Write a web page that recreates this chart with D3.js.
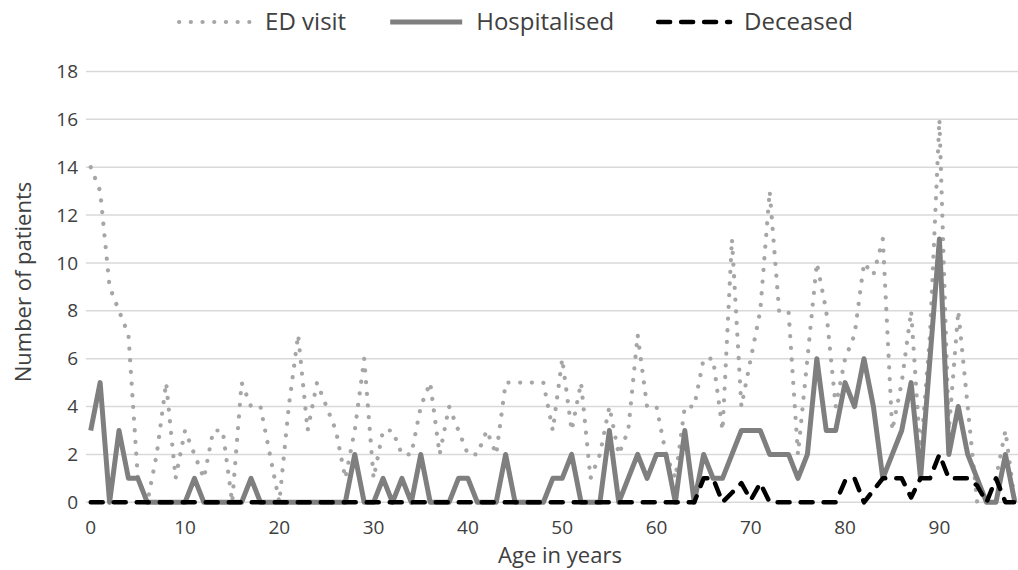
<!DOCTYPE html>
<html>
<head>
<meta charset="utf-8">
<script src="https://cdn.jsdelivr.net/npm/d3@7"></script>
<style>
  body { margin: 0; background: #fff; }
  svg { display: block; font-family: "Open Sans", "Noto Sans", sans-serif; }
  .grid line { stroke: #d9d9d9; stroke-width: 1.5; }
  .tick-label { fill: #404040; font-size: 19px; }
  .axis-title { fill: #404040; font-size: 22px; }
  .legend-label { fill: #404040; font-size: 24px; }
</style>
</head>
<body>
<svg id="chart" width="1018" height="570"></svg>
<script>
// Age categories (x axis)
const ages = [
  0, 1, 2, 3, 4, 5, 6, 7, 8, 9,
  10, 11, 12, 13, 14, 15, 16, 17, 18, 19,
  20, 21, 22, 23, 24, 25, 26, 27, 28, 29,
  30, 31, 32, 33, 34, 35, 36, 37, 38, 39,
  40, 41, 42, 43, 44, 45, 46, 47, 48, 49,
  50, 51, 52, 53, 54, 55, 56, 57, 58, 59,
  60, 61, 62, 63, 64, 65, 66, 67, 68, 69,
  70, 71, 72, 73, 74, 75, 76, 77, 78, 79,
  80, 81, 82, 83, 84, 85, 86, 87, 88, 89,
  90, 91, 92, 93, 94, 95, 96, 97, 98
];

const edVisit = [
  14, 13, 9, 8, 7, 1, 0, 2, 5, 1,
  3, 2, 1, 3, 3, 0, 5, 4, 4, 2,
  0, 4, 7, 3, 5, 4, 3, 1, 3, 6,
  1, 3, 3, 2, 2, 4, 5, 2, 4, 3,
  2, 2, 3, 2, 5, 5, 5, 5, 5, 3,
  6, 3, 5, 1, 2, 4, 2, 3, 7, 4,
  4, 2, 1, 4, 4, 6, 6, 3, 11, 4,
  6, 8, 13, 8, 8, 2, 6, 10, 8, 4,
  6, 7, 10, 9.5, 11, 3, 5, 8, 2, 7,
  16, 3, 8, 4, 0, 0, 1, 3, 0
];

const hospitalised = [
  3, 5, 0, 3, 1, 1, 0, 0, 0, 0,
  0, 1, 0, 0, 0, 0, 0, 1, 0, 0,
  0, 0, 0, 0, 0, 0, 0, 0, 2, 0,
  0, 1, 0, 1, 0, 2, 0, 0, 0, 1,
  1, 0, 0, 0, 2, 0, 0, 0, 0, 1,
  1, 2, 0, 0, 0, 3, 0, 1, 2, 1,
  2, 2, 0, 3, 0, 2, 1, 1, 2, 3,
  3, 3, 2, 2, 2, 1, 2, 6, 3, 3,
  5, 4, 6, 4, 1, 2, 3, 5, 1, 6,
  11, 2, 4, 2, 1, 0, 0, 2, 0
];

const deceased = [
  0, 0, 0, 0, 0, 0, 0, 0, 0, 0,
  0, 0, 0, 0, 0, 0, 0, 0, 0, 0,
  0, 0, 0, 0, 0, 0, 0, 0, 0, 0,
  0, 0, 0, 0, 0, 0, 0, 0, 0, 0,
  0, 0, 0, 0, 0, 0, 0, 0, 0, 0,
  0, 0, 0, 0, 0, 0, 0, 0, 0, 0,
  0, 0, 0, 0, 0, 1, 1, 0, 0.4, 0.8,
  0.1, 0.8, 0, 0, 0, 0, 0, 0, 0, 0,
  0.9, 1, 0, 0.5, 1, 1, 1, 0.2, 1, 1,
  2, 1, 1, 1, 0.7, 0, 1, 0, 0
];

const yTicks = [0, 2, 4, 6, 8, 10, 12, 14, 16, 18];
const xTickAges = [0, 10, 20, 30, 40, 50, 60, 70, 80, 90];

const seriesNames = ['ED visit', 'Hospitalised', 'Deceased'];

// Line styles per series
const styles = {
    'ED visit':     { stroke: '#a6a6a6', width: 4.2, dash: '0.1,11.6', cap: 'round' },
    'Hospitalised': { stroke: '#7f7f7f', width: 5,   dash: null,        cap: 'butt' },
    'Deceased':     { stroke: '#000000', width: 4.5, dash: '12,11',     cap: 'round' }
};

const svg = d3.select('#chart');
const margin = { left: 86, top: 71.4, bottom: 502.3 };
const step = 9.43;

const x = d3.scaleBand()
    .domain(ages)
    .range([margin.left, margin.left + step * ages.length])
    .padding(0);

const xc = d => x(d) + x.bandwidth() / 2;

const y = d3.scaleLinear()
    .domain([0, 18])
    .range([margin.bottom, margin.top]);

// Gridlines
svg.append('g')
    .attr('class', 'grid')
    .selectAll('line')
    .data(yTicks)
    .join('line')
    .attr('x1', margin.left)
    .attr('x2', margin.left + step * ages.length)
    .attr('y1', d => y(d))
    .attr('y2', d => y(d));

// Y tick labels
svg.append('g')
    .selectAll('text')
    .data(yTicks)
    .join('text')
    .attr('class', 'tick-label')
    .attr('x', 78)
    .attr('y', d => y(d))
    .attr('dy', '0.35em')
    .attr('text-anchor', 'end')
    .text(d => d);

// X tick labels
svg.append('g')
    .selectAll('text')
    .data(xTickAges)
    .join('text')
    .attr('class', 'tick-label')
    .attr('x', d => xc(d))
    .attr('y', 527)
    .attr('dy', '0.35em')
    .attr('text-anchor', 'middle')
    .text(d => d);

// Axis titles
svg.append('text')
    .attr('class', 'axis-title')
    .attr('x', 560)
    .attr('y', 555)
    .attr('dy', '0.35em')
    .attr('text-anchor', 'middle')
    .text('Age in years');

svg.append('text')
    .attr('class', 'axis-title')
    .attr('transform', 'translate(23,282) rotate(-90)')
    .attr('dy', '0.35em')
    .attr('text-anchor', 'middle')
    .text('Number of patients');

// Series lines
const seriesData = [edVisit, hospitalised, deceased];
const line = d3.line()
    .x((d, i) => xc(ages[i]))
    .y(d => y(d));

const lines = svg.append('g');
seriesNames.forEach((name, k) => {
    const s = styles[name];
    lines.append('path')
        .datum(seriesData[k])
        .attr('fill', 'none')
        .attr('stroke', s.stroke)
        .attr('stroke-width', s.width)
        .attr('stroke-linecap', s.cap)
        .attr('stroke-linejoin', 'round')
        .attr('stroke-dasharray', s.dash)
        .attr('d', line);
});

// Legend
const legend = svg.append('g');
const sampleLen = 76, sampleGap = 12, itemGap = 42;
const items = seriesNames.map(name => {
    const g = legend.append('g');
    const s = styles[name];
    g.append('line')
        .attr('x1', 2).attr('x2', sampleLen - 2)
        .attr('y1', 0).attr('y2', 0)
        .attr('stroke', s.stroke)
        .attr('stroke-width', s.width)
        .attr('stroke-linecap', s.cap)
        .attr('stroke-dasharray', s.dash);
    const t = g.append('text')
        .attr('class', 'legend-label')
        .attr('x', sampleLen + sampleGap)
        .attr('dy', '0.35em')
        .text(name);
    return { g, w: sampleLen + sampleGap + t.node().getComputedTextLength() };
});
const total = d3.sum(items, d => d.w) + itemGap * (items.length - 1);
let cx = 515 - total / 2;
items.forEach(it => {
    it.g.attr('transform', `translate(${cx},22)`);
    cx += it.w + itemGap;
});
</script>
</body>
</html>
